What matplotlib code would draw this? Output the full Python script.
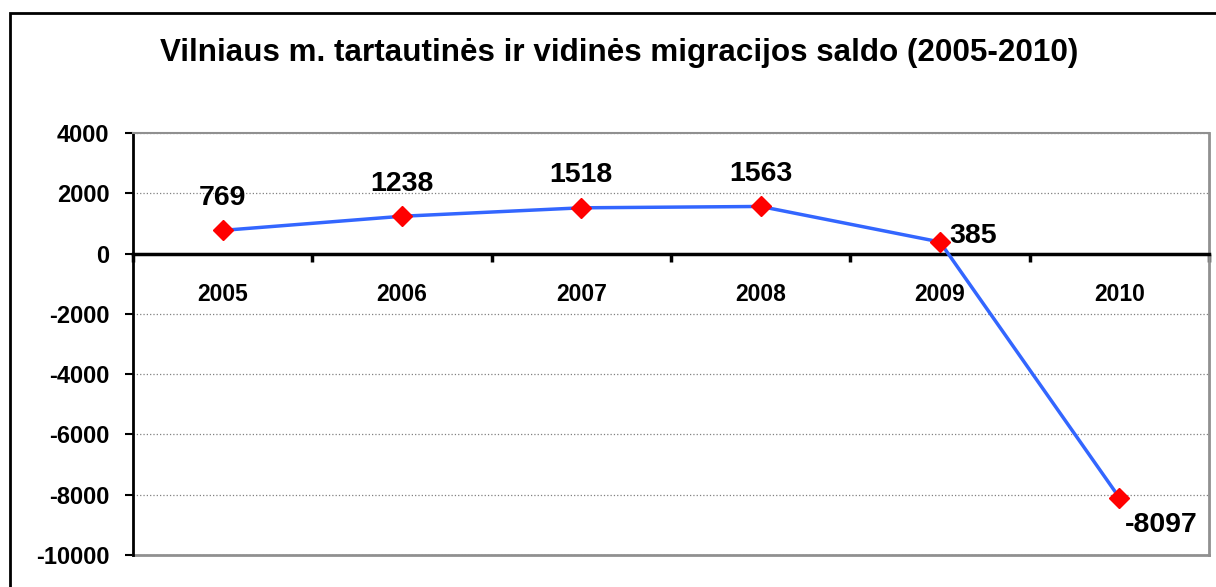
import matplotlib
matplotlib.use('Agg')
import matplotlib.pyplot as plt
from matplotlib.patches import Rectangle

plt.rcParams['font.family'] = ['Liberation Sans', 'DejaVu Sans']
plt.rcParams['font.weight'] = 'bold'
plt.rcParams['axes.unicode_minus'] = False

# data
years = ['2005', '2006', '2007', '2008', '2009', '2010']
saldo = [769, 1238, 1518, 1563, 385, -8097]
title = 'Vilniaus m. tartautinės ir vidinės migracijos saldo (2005-2010)'

fig = plt.figure(figsize=(12.16, 5.87), dpi=100)
ax = fig.add_axes([133 / 1216, 1 - 555 / 587, (1209 - 133) / 1216, (555 - 133) / 587])

x = list(range(len(years)))
ax.plot(x, saldo, color='#3366FF', lw=2.5, zorder=3)
ax.plot(x, saldo, 'D', color='red', ms=10, mec='red', mew=1, zorder=4)

# value labels
for i, v in enumerate(saldo):
    if i == 4:
        ax.annotate(str(v), (i, v), xytext=(7, -5), textcoords='offset points',
                    ha='left', va='bottom', fontsize=20.5, fontweight='bold')
    elif i == 5:
        ax.annotate(str(v), (i, v), xytext=(4, -10), textcoords='offset points',
                    ha='left', va='top', fontsize=20.5, fontweight='bold')
    else:
        ax.annotate(str(v), (i, v), xytext=(0, 14), textcoords='offset points',
                    ha='center', va='bottom', fontsize=20.5, fontweight='bold')

ax.set_xlim(-0.5, 5.5)
ax.set_ylim(-10000, 4000)
ax.set_yticks(range(-10000, 4001, 2000))
ax.set_xticks(x)
ax.set_xticklabels(years)
ax.set_xticks([i - 0.5 for i in range(len(years) + 1)], minor=True)
ax.tick_params(axis='x', which='major', length=0, pad=21, labelsize=16.5)
ax.tick_params(axis='x', which='minor', length=6, width=2.5, direction='out')
ax.tick_params(axis='y', length=6, width=1.5, pad=11, labelsize=17)
for lbl in ax.get_yticklabels() + ax.get_xticklabels():
    lbl.set_fontweight('bold')

ax.yaxis.grid(True, linestyle=':', color='#808080', lw=0.9)
ax.set_axisbelow(True)

ax.spines['bottom'].set_position(('data', 0))
ax.spines['bottom'].set_linewidth(2.5)
ax.spines['left'].set_linewidth(2)
ax.spines['top'].set_color('#909090')
ax.spines['top'].set_linewidth(1.5)
ax.spines['right'].set_color('#909090')
ax.spines['right'].set_linewidth(2)
ax.axhline(-10000, color='#909090', lw=2, clip_on=False, zorder=1)

fig.text(0.509, 0.91, title, ha='center', va='center', fontsize=22.6, fontweight='bold')

# outer frame (cut at right and bottom)
fig.patches.append(Rectangle((10 / 1216, -0.1), 2, 1 - 13 / 587 + 0.1,
                             transform=fig.transFigure, fill=False,
                             edgecolor='black', lw=2))

fig.savefig('out.png', dpi=100)
